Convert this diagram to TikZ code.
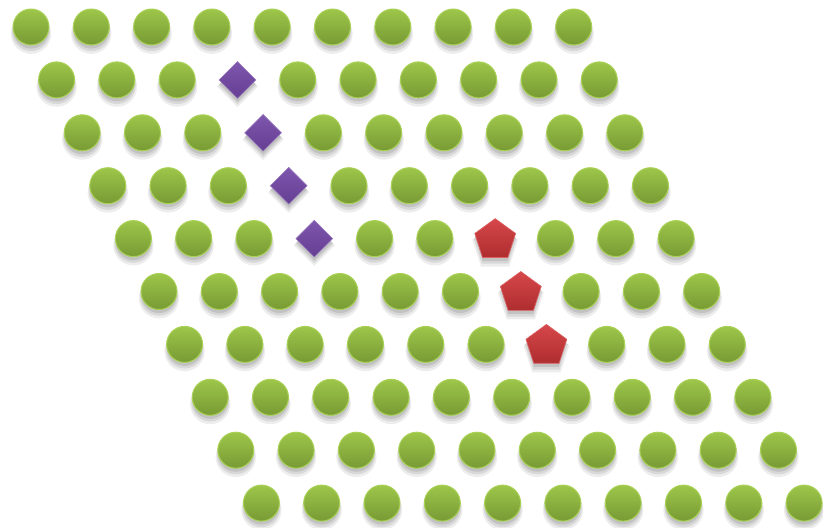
\documentclass[tikz,border=0pt]{standalone}
\usetikzlibrary{shapes.geometric,shadows}
\definecolor{grntop}{HTML}{9DC64A}
\definecolor{grnbot}{HTML}{789A34}
\definecolor{grnrim}{HTML}{A9D156}
\definecolor{purtop}{HTML}{7E56AE}
\definecolor{purbot}{HTML}{653F92}
\definecolor{redtop}{HTML}{D6474A}
\definecolor{redbot}{HTML}{AE2D2F}
\tikzset{
  soft/.style={
    general shadow={fill=black,opacity=0.07,shadow scale=1.12,shadow yshift=-6pt},
    general shadow={fill=black,opacity=0.09,shadow scale=1.05,shadow yshift=-5pt},
    general shadow={fill=black,opacity=0.10,shadow scale=0.98,shadow yshift=-4pt}},
  dot/.style={circle,minimum size=36pt,inner sep=0pt,top color=grntop,bottom color=grnbot,draw=grnrim,line width=1pt,soft},
  gem/.style={diamond,minimum size=37pt,inner sep=0pt,top color=purtop,bottom color=purbot,draw=purtop!80!white,line width=0.6pt,soft},
  penta/.style={regular polygon,regular polygon sides=5,minimum size=43pt,inner sep=0pt,top color=redtop,bottom color=redbot,draw=redtop!85!white,line width=0.6pt,soft}
}
\begin{document}
\begin{tikzpicture}[x=1pt,y=-1pt]
	\useasboundingbox (0,0) rectangle (823,528);
	\def\dx{60.3} \def\sx{25.6} \def\dy{52.9}
	\foreach \r in {0,...,9}{
		\foreach \c in {0,...,9}{
			\pgfmathtruncatemacro\kind{(\c==3 && \r>=1 && \r<=4) ? 1 : ((\c==6 && \r>=4 && \r<=6) ? 2 : 0)}
			\ifcase\kind
				\node[dot] (d-\r-\c) at ({31+\dx*\c+\sx*\r},{27+\dy*\r}) {};
			\or
				\node[gem] (g-\r-\c) at ({31+\dx*\c+\sx*\r},{27+\dy*\r}) {};
			\or
				\node[penta] (p-\r-\c) at ({31+\dx*\c+\sx*\r},{27+\dy*\r+1.5}) {};
			\fi
		}
	}
\end{tikzpicture}
\end{document}
